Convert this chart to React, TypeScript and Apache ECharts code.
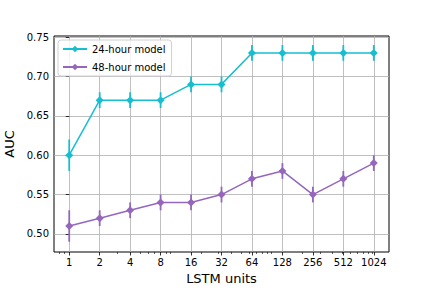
import React, { useEffect, useRef } from "react";
import * as echarts from "echarts";

const units = [1, 2, 4, 8, 16, 32, 64, 128, 256, 512, 1024];
const auc24 = [0.6, 0.67, 0.67, 0.67, 0.69, 0.69, 0.73, 0.73, 0.73, 0.73, 0.73];
const err24 = [0.02, 0.01, 0.01, 0.01, 0.01, 0.01, 0.01, 0.01, 0.01, 0.01, 0.01];
const auc48 = [0.51, 0.52, 0.53, 0.54, 0.54, 0.55, 0.57, 0.58, 0.55, 0.57, 0.59];
const err48 = [0.02, 0.01, 0.01, 0.01, 0.01, 0.01, 0.01, 0.01, 0.01, 0.01, 0.01];
const yTicks = [0.5, 0.55, 0.6, 0.65, 0.7, 0.75];
const minorUnits = [0.8, 0.9, 3, 5, 6, 7, 9, 10, 20, 30, 40, 50, 60, 70, 80, 90, 100, 200, 300, 400, 500, 600, 700, 800, 900, 1000];

const FONT = "DejaVu Sans";
const C24 = "#17becf";
const C48 = "#9467bd";
const DIAMOND = "path://M0,-1L1,0L0,1L-1,0Z";

function errSeries(name: string, vals: number[], errs: number[], color: string) {
  const data = units.map((u, i) => [Math.log2(u), vals[i] - errs[i], vals[i] + errs[i]]);
  return {
    type: "custom",
    name,
    data,
    z: 2,
    silent: true,
    renderItem: (_params: any, api: any) => {
      const x = api.value(0);
      const p1 = api.coord([x, api.value(1)]);
      const p2 = api.coord([x, api.value(2)]);
      return {
        type: "line",
        shape: { x1: p1[0], y1: p1[1], x2: p2[0], y2: p2[1] },
        style: { stroke: color, lineWidth: 1.8 },
      };
    },
  };
}

export default function App() {
  const ref = useRef<HTMLDivElement>(null);
  useEffect(() => {
    if (!ref.current) return;
    const chart = echarts.init(ref.current, undefined, { renderer: "svg" });
    const xs = units.map((u) => Math.log2(u));
    chart.setOption({
      animation: false,
      backgroundColor: "#fff",
      grid: {
        left: 54,
        right: 43,
        top: 36,
        bottom: 36,
        show: true,
        borderColor: "#000",
        borderWidth: 1,
        containLabel: false,
        outerBoundsMode: "none",
      },
      legend: {
        orient: "vertical",
        left: 58,
        top: 40,
        data: ["24-hour model", "48-hour model"],
        itemWidth: 24,
        itemHeight: 8,
        itemGap: 8,
        padding: [4, 6, 4, 4],
        borderColor: "#d0d0d0",
        borderWidth: 1,
        borderRadius: 3,
        backgroundColor: "rgba(255,255,255,0.8)",
        textStyle: { fontFamily: FONT, fontSize: 10, color: "#000" },
      },
      xAxis: [
        {
          type: "value",
          min: -0.5,
          max: 10.5,
          name: "LSTM units",
          nameLocation: "middle",
          nameGap: 19,
          nameTextStyle: { fontFamily: FONT, fontSize: 13, color: "#000" },
          axisLine: { show: false },
          axisTick: {
            show: true,
            length: 3.5,
            customValues: xs,
            lineStyle: { color: "#000", width: 0.8 },
          },
          axisLabel: {
            customValues: xs,
            fontFamily: FONT,
            fontSize: 10,
            color: "#000",
            margin: 5,
            formatter: (v: number) => String(Math.round(Math.pow(2, v))),
          },
          splitLine: { show: true, lineStyle: { color: "#b0b0b0", width: 0.8 } },
        },
        {
          type: "value",
          min: -0.5,
          max: 10.5,
          position: "bottom",
          axisLine: { show: false },
          axisTick: {
            show: true,
            length: 2,
            customValues: minorUnits.map((u) => Math.log2(u)),
            lineStyle: { color: "#000", width: 0.6 },
          },
          axisLabel: { show: false },
          splitLine: { show: false },
        },
      ],
      yAxis: {
        type: "value",
        min: 0.477,
        max: 0.7515,
        name: "AUC",
        nameLocation: "middle",
        nameGap: 33,
        nameTextStyle: { fontFamily: FONT, fontSize: 13, color: "#000" },
        axisLine: { show: false },
        axisTick: {
          show: true,
          length: 3.5,
          customValues: yTicks,
          lineStyle: { color: "#000", width: 0.8 },
        },
        axisLabel: {
          customValues: yTicks,
          fontFamily: FONT,
          fontSize: 10,
          color: "#000",
          margin: 5,
          formatter: (v: number) => v.toFixed(2),
        },
        splitLine: { show: true, lineStyle: { color: "#b0b0b0", width: 0.8 } },
      },
      series: [
        errSeries("err24", auc24, err24, C24),
        {
          type: "line",
          name: "24-hour model",
          data: units.map((u, i) => [Math.log2(u), auc24[i]]),
          color: C24,
          symbol: DIAMOND,
          symbolSize: 8,
          showSymbol: true,
          lineStyle: { width: 1.5, color: C24 },
          itemStyle: { color: C24 },
          z: 3,
        },
        errSeries("err48", auc48, err48, C48),
        {
          type: "line",
          name: "48-hour model",
          data: units.map((u, i) => [Math.log2(u), auc48[i]]),
          color: C48,
          symbol: DIAMOND,
          symbolSize: 8,
          showSymbol: true,
          lineStyle: { width: 1.5, color: C48 },
          itemStyle: { color: C48 },
          z: 3,
        },
      ],
    });
    return () => chart.dispose();
  }, []);
  return <div ref={ref} style={{ width: 432, height: 288, position: "absolute", left: 0, top: 0 }} />;
}
